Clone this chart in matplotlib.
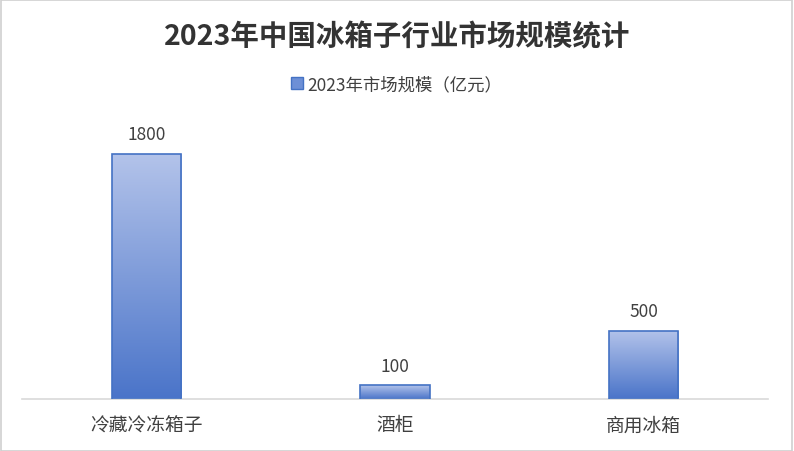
import numpy as np
import matplotlib
matplotlib.use('Agg')
import matplotlib.pyplot as plt
from matplotlib.colors import LinearSegmentedColormap
from matplotlib.patches import Rectangle

plt.rcParams['font.family'] = ['Noto Sans CJK SC', 'DejaVu Sans']

categories = ['冷藏冷冻箱子', '酒柜', '商用冰箱']
values = [1800, 100, 500]
series_name = '2023年市场规模（亿元）'
title = '2023年中国冰箱子行业市场规模统计'

# 渐变色：顶部浅蓝，底部深蓝
grad = LinearSegmentedColormap.from_list('g', ['#4a74c9', '#b3c3ea'])

fig = plt.figure(figsize=(7.94, 4.52), dpi=100)
fig.patches.append(Rectangle((0.001, 0.001), 0.997, 0.996, transform=fig.transFigure,
                             fill=False, edgecolor='#d0d0d0', linewidth=1.2))
ax = fig.add_axes([0.028, 0.115, 0.939, 0.602])

x = np.arange(len(categories))
bars = ax.bar(x, values, width=0.28, color='none', edgecolor='#4472c4', linewidth=1.2, zorder=3)

for b in bars:
    x0, y0 = b.get_x(), b.get_y()
    w, h = b.get_width(), b.get_height()
    img = ax.imshow(np.linspace(0, 1, 256).reshape(-1, 1), cmap=grad, aspect='auto',
                    origin='lower', extent=[x0, x0 + w, y0, y0 + h], zorder=2)
    img.set_clip_path(b)
    ax.text(x0 + w / 2, h + 80, f'{h:.0f}', ha='center', va='bottom',
            fontsize=12.5, color='#404040')

ax.set_xlim(-0.5, len(categories) - 0.5)
ax.set_ylim(0, 2000)
ax.set_xticks(x)
ax.set_xticklabels(categories, fontsize=13.5, color='#404040')
ax.tick_params(axis='x', length=0, pad=11)
ax.set_yticks([])
for s in ['top', 'right', 'left']:
    ax.spines[s].set_visible(False)
ax.spines['bottom'].set_color('#d9d9d9')
ax.spines['bottom'].set_linewidth(1.2)

fig.text(0.5, 0.918, title, ha='center', va='center', fontsize=20.5,
         fontweight='bold', color='#333333')

# 图例
handle = Rectangle((0, 0), 1, 1, facecolor='#6d8fd6', edgecolor='#4472c4')
fig.legend([handle], [series_name], loc='center', bbox_to_anchor=(0.5, 0.812),
           frameon=False, fontsize=12.5, handlelength=0.65, handleheight=0.65,
           handletextpad=0.3, labelcolor='#404040')

fig.savefig('out.png', dpi=100)
